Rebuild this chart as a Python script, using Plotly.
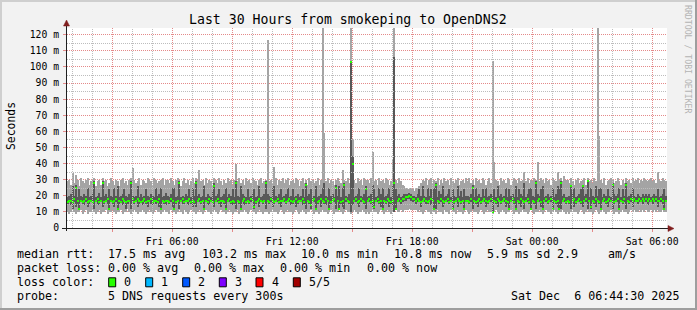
import plotly.graph_objects as go

# ---------------- data ----------------
START_HOUR = 0.7417          # Fri 00:44:30 expressed in hours since Fri 00:00
STEP_HOURS = 1 / 12          # one column per 5 minutes (300 s step)

# sorted pings per step: minimum, 2nd, median, 4th, maximum (ms)
ping_min = [
    10,9,10,11,10,9,10,10,11,9, 10,11,9,10,10,11,10,9,10,11, 9,10,10,11,9,10,10,11,10,9,
    10,10,11,9,10,10,12,10,9,10, 11,10,9,10,10,11,10,9,10,11, 10,9,10,11,10,10,9,10,11,10,
    10,9,11,10,10,9,10,11,10,9, 11,10,9,10,11,10,10,9,10,11, 10,9,10,11,10,10,9,10,11,10,
    9,10,11,10,10,9,10,11,10,9, 10,10,11,9,10,10,11,10,9,10, 11,10,10,9,10,11,10,9,10,10,
    10,9,10,11,10,10,9,10,11,10, 9,10,11,10,10,9,10,11,10,9, 10,11,10,9,10,10,11,10,9,10,
    10,9,10,11,10,10,9,10,11,10, 9,10,10,11,10,9,10,11,10,10, 9,10,11,10,9,10,10,11,10,9,
    10,9,10,11,10,10,9,10,11,10, 9,10,11,10,9,10,10,11,10,10, 11,10,11,11,11,12,11,11,11,11,
    10,11,10,9,10,11,10,10,9,10, 10,9,11,10,10,9,11,10,10,9, 11,10,10,9,11,10,10,9,10,11,
    10,9,10,11,10,10,9,10,11,10, 9,10,11,10,10,9,10,11,10,9, 10,11,10,9,10,10,11,10,9,10,
    10,9,10,11,10,10,9,10,11,10, 9,10,10,11,10,9,10,11,10,10, 9,10,11,10,9,10,10,11,10,9,
    10,9,10,11,10,10,9,10,11,10, 9,10,11,10,10,9,10,11,10,9, 10,11,10,9,10,10,11,10,9,10,
    10,9,10,11,10,10,9,10,11,10, 11,10,10,11,10,11,10,11,10,10, 11,10,11,10,11,10,10,11,10,10,
]
ping_lo = [
    15,16,14,12,16,13,15,11,16,15, 14,16,13,15,16,15,12,16,15,14, 16,13,15,16,14,11,16,15,13,16,
    11,15,16,14,16,12,15,16,12,16, 15,16,13,15,16,14,16,15,13,16, 15,14,16,15,16,13,11,16,15,14,
    16,15,16,13,11,15,16,12,16,15, 15,16,14,16,15,13,15,13,16,16, 15,16,11,16,15,14,16,15,13,16,
    16,15,13,16,15,11,16,16,15,14, 15,12,16,15,11,16,14,15,16,15, 16,16,12,15,16,13,16,15,16,12,
    16,15,16,13,15,16,16,15,13,16, 16,15,16,16,14,15,16,13,15,16, 16,14,15,12,16,15,12,16,16,11,
    15,16,13,16,15,14,16,11,15,16, 16,12,16,11,15,13,12,16,16,15, 10,14,16,16,15,13,16,16,15,12,
    16,16,15,13,12,16,16,15,13,11, 16,15,16,13,15,14,10,11,16,16, 15,16,17,17,18,18,17,16,17,15,
    16,16,13,16,16,15,15,16,14,16, 11,12,16,15,16,13,15,16,16,15, 16,11,15,16,13,16,15,16,11,16,
    16,15,16,12,16,15,13,16,15,16, 16,13,15,16,16,9.5,16,15,13,16, 15,16,16,13,15,11,16,16,15,11,
    16,15,13,16,12,16,16,15,11,16, 15,12,16,16,13,11,16,16,15,16, 16,11,16,15,13,11,12,16,16,15,
    16,15,12,16,13,15,16,16,15,13, 16,16,12,16,12,16,15,13,16,15, 11,16,16,15,13,16,16,12,15,16,
    16,11,16,15,16,12,16,15,16,13, 16,16,15,16,16,15,16,16,14,16, 16,15,16,16,13,16,16,15,11,16,
]
median_rtt = [
    16,17,17,16,18,25,17,12,17,16, 17,18,16,17,17,16,28,17,18,16, 17,28,16,17,18,12,17,16,17,18,
    12,17,16,18,17,16,17,17,28,18, 16,17,18,17,16,17,18,16,17,17, 18,16,17,17,16,18,12,17,16,17,
    17,16,18,17,12,16,17,28,17,18, 16,17,17,18,16,17,16,28,17,18, 16,17,12,17,16,18,17,16,26,17,
    18,16,17,17,16,12,17,18,16,17, 16,28,17,16,12,17,18,16,17,16, 18,17,13,16,17,18,17,16,17,28,
    17,16,18,17,16,17,18,16,17,17, 18,16,17,18,17,16,17,18,16,17, 17,18,16,27,17,16,14,17,18,12,
    16,17,18,17,16,18,17,12,16,17, 18,25,17,12,16,17,27,18,17,16, 103.2,40,17,18,16,17,18,17,16,24,
    17,18,16,17,13,17,18,16,17,12, 17,16,18,17,16,17,28,12,17,18, 17,18,18,19,19,20,19,18,18,17,
    18,17,16,17,18,17,16,17,18,17, 12,27,17,16,18,17,16,17,18,16, 17,12,16,17,18,17,16,17,12,17,
    17,16,18,25,17,16,17,18,16,17, 18,17,16,17,18,10,17,16,18,17, 16,17,18,17,16,12,17,18,16,12,
    17,16,18,17,16,17,18,16,12,17, 16,28,17,18,16,12,17,18,16,17, 18,12,17,16,17,12,28,17,18,16,
    17,16,26,17,18,16,17,18,16,26, 17,18,29,17,13,17,16,18,17,16, 12,17,18,16,17,18,17,27,16,17,
    18,12,17,16,18,27,17,16,18,17, 18,17,17,18,17,18,17,18,17,18, 17,18,17,18,17,17,18,17,12,17,
]
ping_hi = [
    19,20,21,26,20,27,19,24,20,19, 21,20,25,19,20,21,29,19,20,22, 19,29,20,21,19,24,20,19,25,20,
    26,19,20,21,24,20,19,21,29,20, 19,20,26,19,21,19,20,24,20,19, 21,20,19,25,20,21,25,19,20,22,
    20,19,21,25,25,19,20,29,19,20, 19,21,20,24,19,25,20,29,20,21, 19,20,26,19,21,20,19,23,28,20,
    21,24,19,20,21,25,19,21,20,24, 19,29,20,19,26,21,20,19,24,19, 20,21,24,19,20,26,19,20,21,29,
    21,20,19,25,26,20,19,21,24,19, 20,21,25,19,20,24,19,20,21,19, 20,24,19,28,20,21,24,19,20,26,
    19,20,21,25,28,20,19,25,20,21, 19,27,20,26,19,25,28,20,19,21, 104,45,19,20,21,25,20,19,21,26,
    19,20,21,27,24,19,20,25,21,25, 19,20,21,25,19,27,106,24,20,21, 19,20,21,21,21,22,21,20,20,19,
    21,24,20,26,20,19,25,20,24,19, 25,28,19,23,21,26,19,20,21,24, 19,24,20,19,26,20,23,19,24,20,
    20,19,21,27,19,25,20,21,19,24, 20,25,19,20,21,20,24,19,26,20, 21,19,20,25,19,24,20,21,19,26,
    19,24,21,20,28,19,21,24,25,20, 19,29,21,20,24,26,19,20,21,19, 20,25,19,21,26,24,29,20,21,19,
    19,20,27,21,25,19,20,21,24,27, 20,21,30,19,25,20,19,26,20,24, 25,19,21,20,24,20,19,28,21,20,
    21,25,19,24,20,28,19,20,21,25, 20,19,21,20,19,21,20,21,20,21, 19,20,21,20,24,19,20,21,24,20,
]
ping_max = [
    29,30,27,34,28,33,30,26,31,29, 28,30,31,27,29,30,31,26,29,30, 27,31,29,30,26,28,31,29,27,30,
    29,26,30,31,28,29,27,30,31,37, 30,28,29,31,27,30,29,28,31,30, 29,27,31,30,28,29,30,31,27,30,
    30,28,31,29,27,30,31,30,26,29, 31,28,30,27,29,31,28,31,30,36, 29,30,27,31,28,30,29,26,31,30,
    28,31,29,27,30,28,31,29,30,27, 30,40,29,31,28,30,27,31,29,30, 28,31,30,29,27,30,31,28,29,30,
    117,29,30,28,38,31,27,30,29,31, 28,30,31,27,29,30,28,31,30,26, 29,31,28,30,27,31,29,30,28,29,
    31,27,30,130,59,29,31,28,30,29, 27,30,31,29,28,36,30,29,31,28, 130,55,30,28,31,29,30,27,31,30,
    30,28,31,47,29,30,27,31,29,30, 28,31,30,27,29,43,130,30,28,31, 29,27,26,25,24,24,25,24,23,25,
    24,26,28,30,29,31,27,30,31,28, 30,29,31,27,30,28,31,29,30,27, 31,29,28,30,31,27,29,30,28,31,
    29,31,28,30,27,31,29,30,28,31, 30,27,29,31,28,104,41,30,29,27, 31,29,30,28,31,30,27,29,31,30,
    28,31,29,30,35,29,31,28,30,29, 31,30,41,29,31,30,28,31,29,30, 27,31,30,29,35,30,31,29,32,30,
    30,28,31,29,27,30,31,28,29,30, 31,27,31,29,30,28,31,29,130,57, 30,28,31,27,29,30,31,30,28,29,
    31,29,27,30,28,31,29,30,28,31, 29,30,31,28,30,29,31,30,29,30, 31,29,30,28,35,30,29,31,30,29,
]

y_tick_values = [0, 10, 20, 30, 40, 50, 60, 70, 80, 90, 100, 110, 120]
y_tick_labels = ["0", "10 m", "20 m", "30 m", "40 m", "50 m", "60 m", "70 m",
                 "80 m", "90 m", "100 m", "110 m", "120 m"]
x_tick_hours = [3, 6, 9, 12, 15, 18, 21, 24, 27, 30]
x_tick_labels = ["", "Fri 06:00", "", "Fri 12:00", "", "Fri 18:00", "",
                 "Sat 00:00", "", "Sat 06:00"]
loss_labels = ["0", "1", "2", "3", "4", "5/5"]
loss_colors = ["#26ff00", "#00b8ff", "#0059ff", "#7e00ff", "#ff0000", "#a10000"]

TITLE = "Last 30 Hours from smokeping to OpenDNS2"
Y_MAX = 124.2

# ---------------- geometry ----------------
W, H = 697, 310
L, R, T, B = 67, 30, 28, 82
PW, PH = W - L - R, H - T - B


def px(xp):
    return (xp - L) / PW


def py(yp):
    return (T + PH - yp) / PH


MONO = "DejaVu Sans Mono"

n = len(median_rtt)
x = [START_HOUR + (i + 0.5) * STEP_HOURS for i in range(n)]
med_h = 2 * Y_MAX / PH

GRID = "#bdbdbd"
MGRID = "#e48a8a"
DOT = "1px,1px"

x_range = [START_HOUR, START_HOUR + 30]
minor_hours = [h for h in range(1, 31) if h % 3 != 0]
minor_ms = [v for v in range(5, 125, 10)]

fig = go.Figure()
fig.add_trace(go.Bar(x=x, base=ping_min, y=[b - a for a, b in zip(ping_min, ping_max)],
                     width=STEP_HOURS, marker=dict(color="#a4a4a4", line_width=0),
                     hoverinfo="skip"))
fig.add_trace(go.Bar(x=x, base=ping_lo, y=[b - a for a, b in zip(ping_lo, ping_hi)],
                     width=STEP_HOURS, marker=dict(color="#585858", line_width=0),
                     hoverinfo="skip"))
fig.add_trace(go.Bar(x=x, base=[m - med_h / 2 for m in median_rtt], y=[med_h] * n,
                     width=STEP_HOURS, marker=dict(color=loss_colors[0], line_width=0),
                     hoverinfo="skip"))

# minor (gray, dotted) grid drawn as line traces, snapped to pixel centres
gx, gy = [], []
for h in minor_hours:
    xp = round(L + (h - x_range[0]) / 30 * PW) + 0.5
    xd = x_range[0] + (xp - L) / PW * 30
    gx += [xd, xd, None]
    gy += [0, Y_MAX, None]
for v in minor_ms:
    yp = round(T + PH - v / Y_MAX * PH) + 0.5
    yd = (T + PH - yp) / PH * Y_MAX
    gx += [x_range[0], x_range[1], None]
    gy += [yd, yd, None]
fig.add_trace(go.Scatter(x=gx, y=gy, mode="lines", hoverinfo="skip", cliponaxis=True,
                         line=dict(color=GRID, width=1, dash=DOT)))

fig.update_layout(
    width=W, height=H, autosize=False,
    margin=dict(l=L, r=R, t=T, b=B, pad=0),
    paper_bgcolor="#f2f2f2", plot_bgcolor="#ffffff",
    barmode="overlay", bargap=0, showlegend=False,
    font=dict(family=MONO, color="#000000"),
)
fig.update_xaxes(
    range=x_range, tickmode="array", tickvals=x_tick_hours, ticktext=x_tick_labels,
    showgrid=True, gridcolor=MGRID, griddash=DOT, gridwidth=1,
    ticks="outside", ticklen=3, tickcolor=MGRID,
    tickfont=dict(family=MONO, size=9.75, color="#000000"), ticklabelstandoff=1,
    zeroline=False, showline=False, fixedrange=True,
)
fig.update_yaxes(
    range=[0, Y_MAX], tickmode="array", tickvals=y_tick_values, ticktext=y_tick_labels,
    showgrid=True, gridcolor=MGRID, griddash=DOT, gridwidth=1,
    ticks="outside", ticklen=3, tickcolor=MGRID,
    tickfont=dict(family=MONO, size=9.75, color="#000000"), ticklabelstandoff=2,
    zeroline=False, showline=False, fixedrange=True,
)

shapes = []
# outer 3D border of the canvas
shapes.append(dict(type="rect", xref="paper", yref="paper", x0=px(0), x1=px(2), y0=py(H), y1=py(0),
                   fillcolor="#cfcfcf", line_width=0, layer="above"))
shapes.append(dict(type="rect", xref="paper", yref="paper", x0=px(0), x1=px(W), y0=py(2), y1=py(0),
                   fillcolor="#cfcfcf", line_width=0, layer="above"))
shapes.append(dict(type="rect", xref="paper", yref="paper", x0=px(W - 2), x1=px(W), y0=py(H), y1=py(0),
                   fillcolor="#9e9e9e", line_width=0, layer="above"))
shapes.append(dict(type="rect", xref="paper", yref="paper", x0=px(0), x1=px(W), y0=py(H), y1=py(H - 2),
                   fillcolor="#9e9e9e", line_width=0, layer="above"))
# axes
shapes.append(dict(type="line", xref="paper", yref="paper", x0=px(62), x1=px(668), y0=py(228.5), y1=py(228.5),
                   line=dict(color="#1f1f1f", width=1), layer="above"))
shapes.append(dict(type="line", xref="paper", yref="paper", x0=px(66.5), x1=px(66.5), y0=py(231), y1=py(24),
                   line=dict(color="#1f1f1f", width=1), layer="above"))
# arrows
shapes.append(dict(type="path", xref="paper", yref="paper",
                   path=f"M {px(66.5)},{py(20)} L {px(63.5)},{py(26)} L {px(69.5)},{py(26)} Z",
                   fillcolor="#801f1f", line=dict(color="#801f1f", width=0.5), layer="above"))
shapes.append(dict(type="path", xref="paper", yref="paper",
                   path=f"M {px(674)},{py(228.5)} L {px(668)},{py(225.5)} L {px(668)},{py(231.5)} Z",
                   fillcolor="#801f1f", line=dict(color="#801f1f", width=0.5), layer="above"))

ann = []


def text(xp, yp, s, size=11.67, anchor="left", color="#000000", angle=0, yanchor="middle"):
    ann.append(dict(xref="paper", yref="paper", x=px(xp), y=py(yp), text=s, showarrow=False,
                    xanchor=anchor, yanchor=yanchor, borderpad=0, textangle=angle,
                    font=dict(family=MONO, size=size, color=color)))


text(347.5, 19.3, TITLE, size=13.2, anchor="center")
text(11, 126, "Seconds", size=11.4, anchor="center", angle=-90)
text(688, 59, "RRDTOOL / TOBI OETIKER", size=8.2, anchor="center", color="#b4b4b4", angle=90)

# legend rows
r1, r2, r3, r4 = 254.3, 268.3, 282.3, 296.0
text(16, r1, "median rtt:")
text(107.3, r1, "17.5 ms avg")
text(200.7, r1, "103.2 ms max")
text(300, r1, "10.0 ms min")
text(393.3, r1, "10.8 ms now")
text(486, r1, "5.9 ms sd")
text(555.7, r1, "2.9")
text(607.3, r1, "am/s")

text(16, r2, "packet loss:")
text(107.3, r2, "0.00 % avg")
text(193.3, r2, "0.00 % max")
text(279.3, r2, "0.00 % min")
text(366, r2, "0.00 % now")

text(16, r3, "loss color:")
box_x = [108.7, 145.7, 182.7, 219.3, 256.0, 293.3]
for bx, lab, col in zip(box_x, loss_labels, loss_colors):
    shapes.append(dict(type="rect", xref="paper", yref="paper", x0=px(bx), x1=px(bx + 7),
                       y0=py(r3 + 4.5), y1=py(r3 - 4.5), fillcolor=col,
                       line=dict(color="#000000", width=1), layer="above"))
    text(bx + 14.6, r3, lab)

text(16, r4, "probe:")
text(107.3, r4, "5 DNS requests every 300s")
text(680, r4, "Sat Dec  6 06:44:30 2025", anchor="right")

fig.update_layout(shapes=shapes, annotations=ann)
fig.write_html("out.html")
